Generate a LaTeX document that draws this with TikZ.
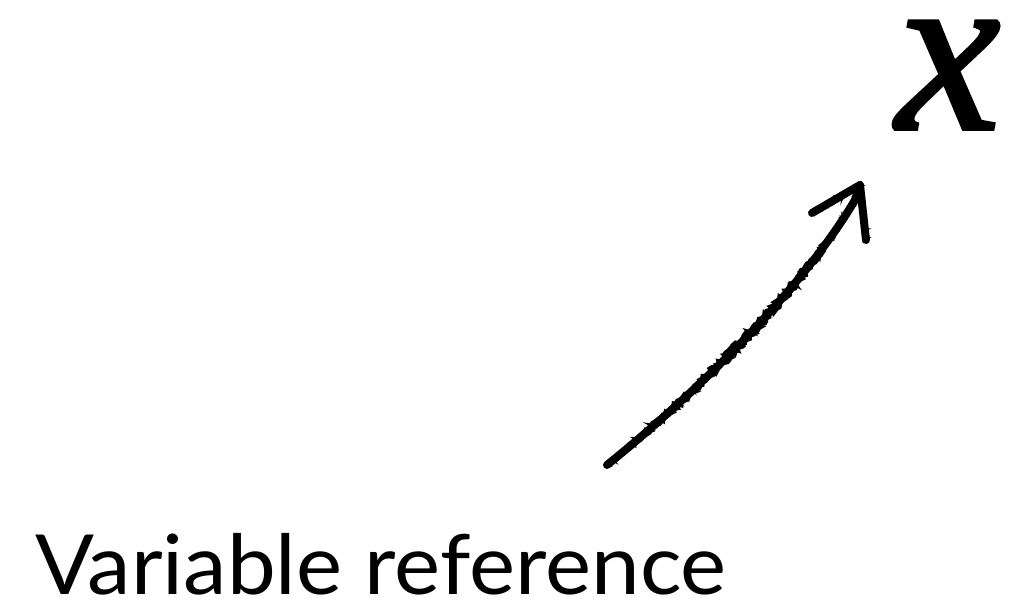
\documentclass[tikz,border=0pt]{standalone}
\usepackage{fontspec}
\setmainfont{Lato}
\newfontfamily\xfont[FakeBold=1.5]{Liberation Serif}
\usetikzlibrary{decorations.pathmorphing}
\begin{document}
\begin{tikzpicture}[x=1pt,y=1pt,
  chalk/.style={line width=8pt,line cap=round,line join=round,black},
  rough/.style={line width=2.5pt,line cap=round,black,
    decorate,decoration={random steps,segment length=2pt,amplitude=2pt}},
  label/.style={anchor=base west,inner sep=0pt,xscale=1.05,font=\fontsize{83}{90}\selectfont},
  var/.style={anchor=base west,inner sep=0pt,font=\xfont\itshape\fontsize{235}{235}\selectfont}]
\useasboundingbox (0,0) rectangle (1029,613);
\node[label] (lbl) at (35,18) {Variable reference};
\node[var] (xv) at (896,484) {x};
\coordinate (a) at (607,148);
\coordinate (b) at (855,413);
\coordinate (t) at (860,428);
\coordinate (l) at (812,400);
\coordinate (r) at (866,373);
\draw[chalk] (a) .. controls (690,215) and (800,320) .. (b) -- (t);
\draw[chalk] (l) -- (t) -- (r);
\foreach \o in {-3,0,3}{
  \draw[rough,shift={(\o,-\o)}] (a) .. controls (690,215) and (800,320) .. (b) -- (t);
  \draw[rough,shift={(\o*0.8,\o*0.6)}] (l) -- (t) -- (r);
}
\end{tikzpicture}
\end{document}
